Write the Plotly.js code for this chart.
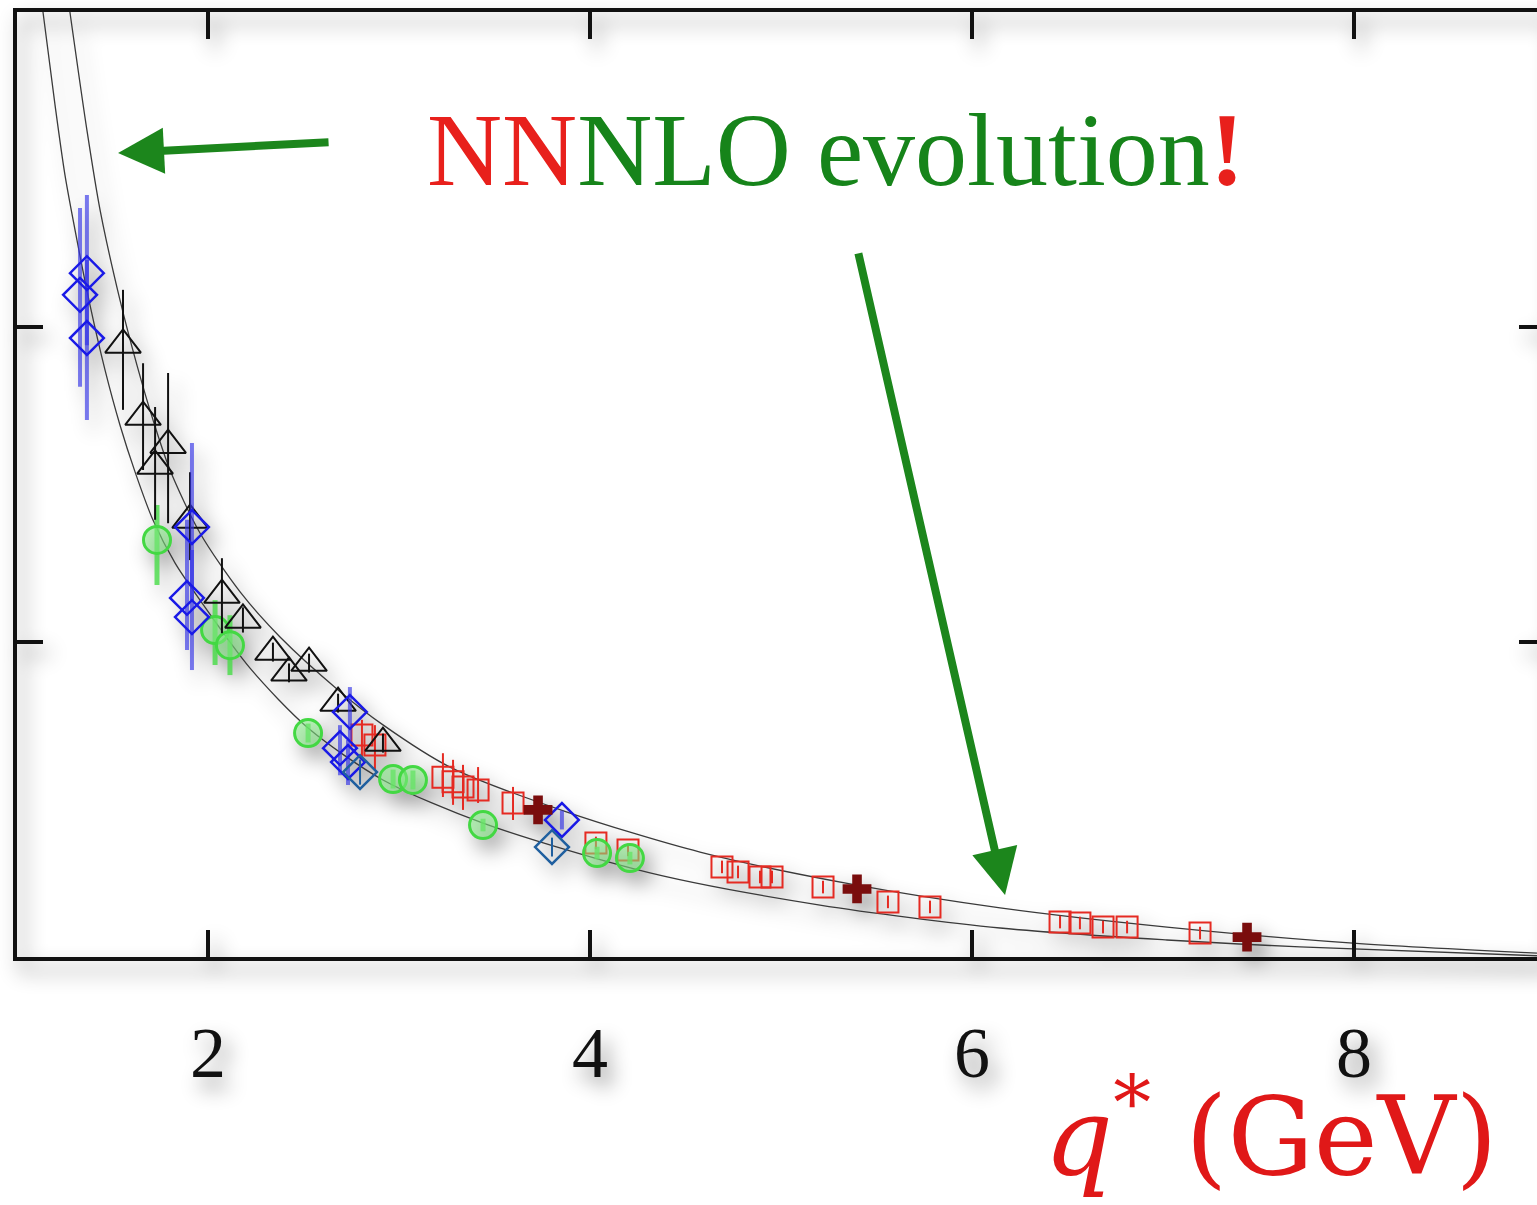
<!DOCTYPE html>
<html>
<head>
<meta charset="utf-8">
<script src="https://cdn.plot.ly/plotly-3.0.1.min.js"></script>
<style>
html, body { margin: 0; padding: 0; overflow: hidden; background: #ffffff; }
#chart { width: 1560px; height: 1205px; }
#chart .main-svg:first-of-type { filter: drop-shadow(7px 11px 10px rgba(0,0,0,0.45)); }
</style>
</head>
<body>
<div id="chart"></div>
<script>
// ---- band curves ----
const upperX = [1.277, 1.366, 1.435, 1.539, 1.628, 1.712, 1.801, 1.958, 2.168, 2.377, 2.681, 2.916, 3.267, 3.880, 4.576, 5.361, 6.147, 7.021, 7.995, 8.958];
const upperY = [3.000, 2.625, 2.371, 2.086, 1.879, 1.705, 1.546, 1.346, 1.159, 1.016, 0.848, 0.737, 0.603, 0.460, 0.333, 0.232, 0.156, 0.095, 0.044, 0.012];
const lowerX = [1.136, 1.199, 1.251, 1.314, 1.382, 1.461, 1.539, 1.618, 1.712, 1.827, 1.958, 2.220, 2.524, 2.916, 3.440, 4.314, 5.204, 6.147, 7.021, 7.717, 8.958];
const lowerY = [3.000, 2.705, 2.483, 2.276, 2.070, 1.863, 1.689, 1.540, 1.387, 1.251, 1.133, 0.917, 0.727, 0.562, 0.425, 0.267, 0.165, 0.092, 0.054, 0.032, 0.004];

// ---- blue diamonds ----
const blueX = [1.366, 1.330, 1.366, 1.916, 1.890, 1.916, 2.743, 2.691, 2.733, 3.853];
const blueY = [2.171, 2.102, 1.965, 1.365, 1.140, 1.079, 0.778, 0.663, 0.619, 0.435];
const blueErrUp = [0.248, 0.276, 0.248, 0.267, 0.248, 0.213, 0.079, 0.073, 0.070, 0.030];
const blueErrDn = [0.229, 0.292, 0.260, 0.232, 0.165, 0.168, 0.089, 0.086, 0.073, 0.030];

// ---- teal diamonds ----
const tealX = [2.796, 3.801];
const tealY = [0.587, 0.349];
const tealErr = [0.040, 0.030];

// ---- black triangles ----
const triX = [1.555, 1.660, 1.791, 1.723, 1.906, 2.073, 2.183, 2.340, 2.424, 2.529, 2.681, 2.916];
const triY = [1.943, 1.714, 1.625, 1.559, 1.387, 1.149, 1.070, 0.968, 0.902, 0.933, 0.806, 0.679];
const triErrUp = [0.175, 0.171, 0.229, 0.187, 0.152, 0.117, 0.040, 0.030, 0.030, 0.030, 0.030, 0.030];
const triErrDn = [0.206, 0.168, 0.248, 0.171, 0.127, 0.121, 0.040, 0.030, 0.030, 0.030, 0.030, 0.030];

// ---- green circles ----
const greenX = [1.733, 2.037, 2.115, 2.524, 2.969, 3.073, 3.440, 4.037, 4.209];
const greenY = [1.324, 1.038, 0.990, 0.711, 0.565, 0.562, 0.419, 0.330, 0.314];
const greenErrUp = [0.111, 0.095, 0.095, 0.030, 0.030, 0.030, 0.020, 0.020, 0.020];
const greenErrDn = [0.143, 0.111, 0.095, 0.030, 0.030, 0.030, 0.020, 0.020, 0.020];

// ---- red squares ----
const redX = [2.806, 2.874, 3.230, 3.283, 3.335, 3.414, 3.597, 4.031, 4.199, 4.691, 4.775, 4.890, 4.953, 5.220, 5.560, 5.780, 6.461, 6.565, 6.686, 6.812, 7.194];
const redY = [0.705, 0.673, 0.571, 0.556, 0.540, 0.530, 0.489, 0.362, 0.340, 0.286, 0.270, 0.254, 0.254, 0.222, 0.175, 0.159, 0.111, 0.108, 0.095, 0.095, 0.076];
const redErrUp = [0.048, 0.063, 0.076, 0.070, 0.070, 0.073, 0.051, 0.020, 0.020, 0.020, 0.020, 0.020, 0.020, 0.020, 0.020, 0.020, 0.020, 0.020, 0.020, 0.020, 0.020];
const redErrDn = [0.079, 0.079, 0.063, 0.073, 0.073, 0.041, 0.054, 0.020, 0.020, 0.020, 0.020, 0.020, 0.020, 0.020, 0.020, 0.020, 0.020, 0.020, 0.020, 0.020, 0.020];

// ---- dark red crosses ----
const crossX = [3.728, 5.398, 7.440];
const crossY = [0.467, 0.216, 0.063];

// ---- axis ticks ----
const xTickVals = [2, 4, 6, 8];
const xTickText = ['2', '4', '6', '8'];
const yTickVals = [1, 2];

function curve(x, y) {
  return { x: x, y: y, type: 'scatter', mode: 'lines', hoverinfo: 'skip',
    line: { color: '#3a3a3a', width: 1.3, shape: 'spline', smoothing: 0.8 } };
}
function pts(x, y, up, dn, symbol, size, color, lineW, barColor, barW, fill) {
  return {
    x: x, y: y, type: 'scatter', mode: 'markers',
    error_y: { type: 'data', symmetric: false, array: up, arrayminus: dn, color: barColor, thickness: barW, width: 0, visible: true },
    marker: { symbol: symbol, size: size, color: fill || color, line: { color: color, width: lineW } }
  };
}

const traces = [
  curve(upperX, upperY),
  curve(lowerX, lowerY),
  pts(redX, redY, redErrUp, redErrDn, 'square-open', 21, '#e52a22', 2, '#e52a22', 2),
  pts(greenX, greenY, greenErrUp, greenErrDn, 'circle', 27, '#43d843', 3, 'rgba(70,220,70,0.8)', 5, 'rgba(130,235,130,0.55)'),
  pts(triX, triY, triErrUp, triErrDn, 'triangle-up-open', 31, '#111111', 2, '#111111', 2),
  pts(blueX, blueY, blueErrUp, blueErrDn, 'diamond-open', 26, '#1a1ae6', 2.5, 'rgba(50,50,230,0.65)', 4),
  { x: tealX, y: tealY, type: 'scatter', mode: 'markers',
    error_y: { type: 'data', array: tealErr, color: '#1f5f9f', thickness: 2, width: 0 },
    marker: { symbol: 'diamond-open', size: 26, color: '#1f5f9f', line: { color: '#1f5f9f', width: 2.5 } } },
  { x: crossX, y: crossY, type: 'scatter', mode: 'markers',
    marker: { symbol: 'cross', size: 24, color: '#7a0d0d', line: { color: '#7a0d0d', width: 0 } } }
];

const serif = 'Liberation Serif, Times New Roman, serif';

const layout = {
  width: 1560, height: 1205,
  margin: { l: 17, r: 15, t: 12, b: 248 },
  paper_bgcolor: 'rgba(0,0,0,0)',
  plot_bgcolor: 'rgba(0,0,0,0)',
  showlegend: false,
  xaxis: {
    range: [1, 9], showgrid: false, zeroline: false,
    showline: true, linecolor: '#111', linewidth: 4, mirror: 'ticks',
    ticks: 'inside', ticklen: 27, tickwidth: 3.5, tickcolor: '#111',
    tickvals: xTickVals, ticktext: xTickText,
    tickfont: { family: serif, size: 72, color: '#111' },
    ticklabelstandoff: 30
  },
  yaxis: {
    range: [0, 3], showgrid: false, zeroline: false,
    showline: true, linecolor: '#111', linewidth: 4, mirror: 'ticks',
    ticks: 'inside', ticklen: 26, tickwidth: 3.5, tickcolor: '#111',
    tickvals: yTickVals, showticklabels: false
  },
  annotations: [
    { xref: 'paper', yref: 'paper', x: 0.267, y: 0.854, xanchor: 'left', yanchor: 'middle', showarrow: false,
      text: '<span style="color:#e8201c">NN</span>NLO evolution<span style="color:#e8201c"><b>!</b></span>',
      font: { family: serif, size: 104, color: '#16841a' } },
    { xref: 'paper', yref: 'paper', x: 0.9705, y: -0.258, xanchor: 'right', yanchor: 'bottom', showarrow: false,
      text: '<i>q</i><sup>*</sup>&nbsp;(GeV)',
      font: { family: 'DejaVu Serif, serif', size: 108, color: '#e01818' } },
    { xref: 'x', yref: 'y', x: 1.529, y: 2.552, ax: 212, ay: -11, axref: 'pixel', ayref: 'pixel',
      showarrow: true, arrowhead: 2, arrowsize: 1.15, arrowwidth: 8, arrowcolor: '#1c861c', standoff: 0, text: '' },
    { xref: 'x', yref: 'y', x: 6.173, y: 0.197, ax: -147, ay: -643, axref: 'pixel', ayref: 'pixel',
      showarrow: true, arrowhead: 2, arrowsize: 1.15, arrowwidth: 8, arrowcolor: '#1c861c', standoff: 0, text: '' }
  ]
};

Plotly.newPlot('chart', traces, layout, { staticPlot: true, displayModeBar: false });
</script>
</body>
</html>
